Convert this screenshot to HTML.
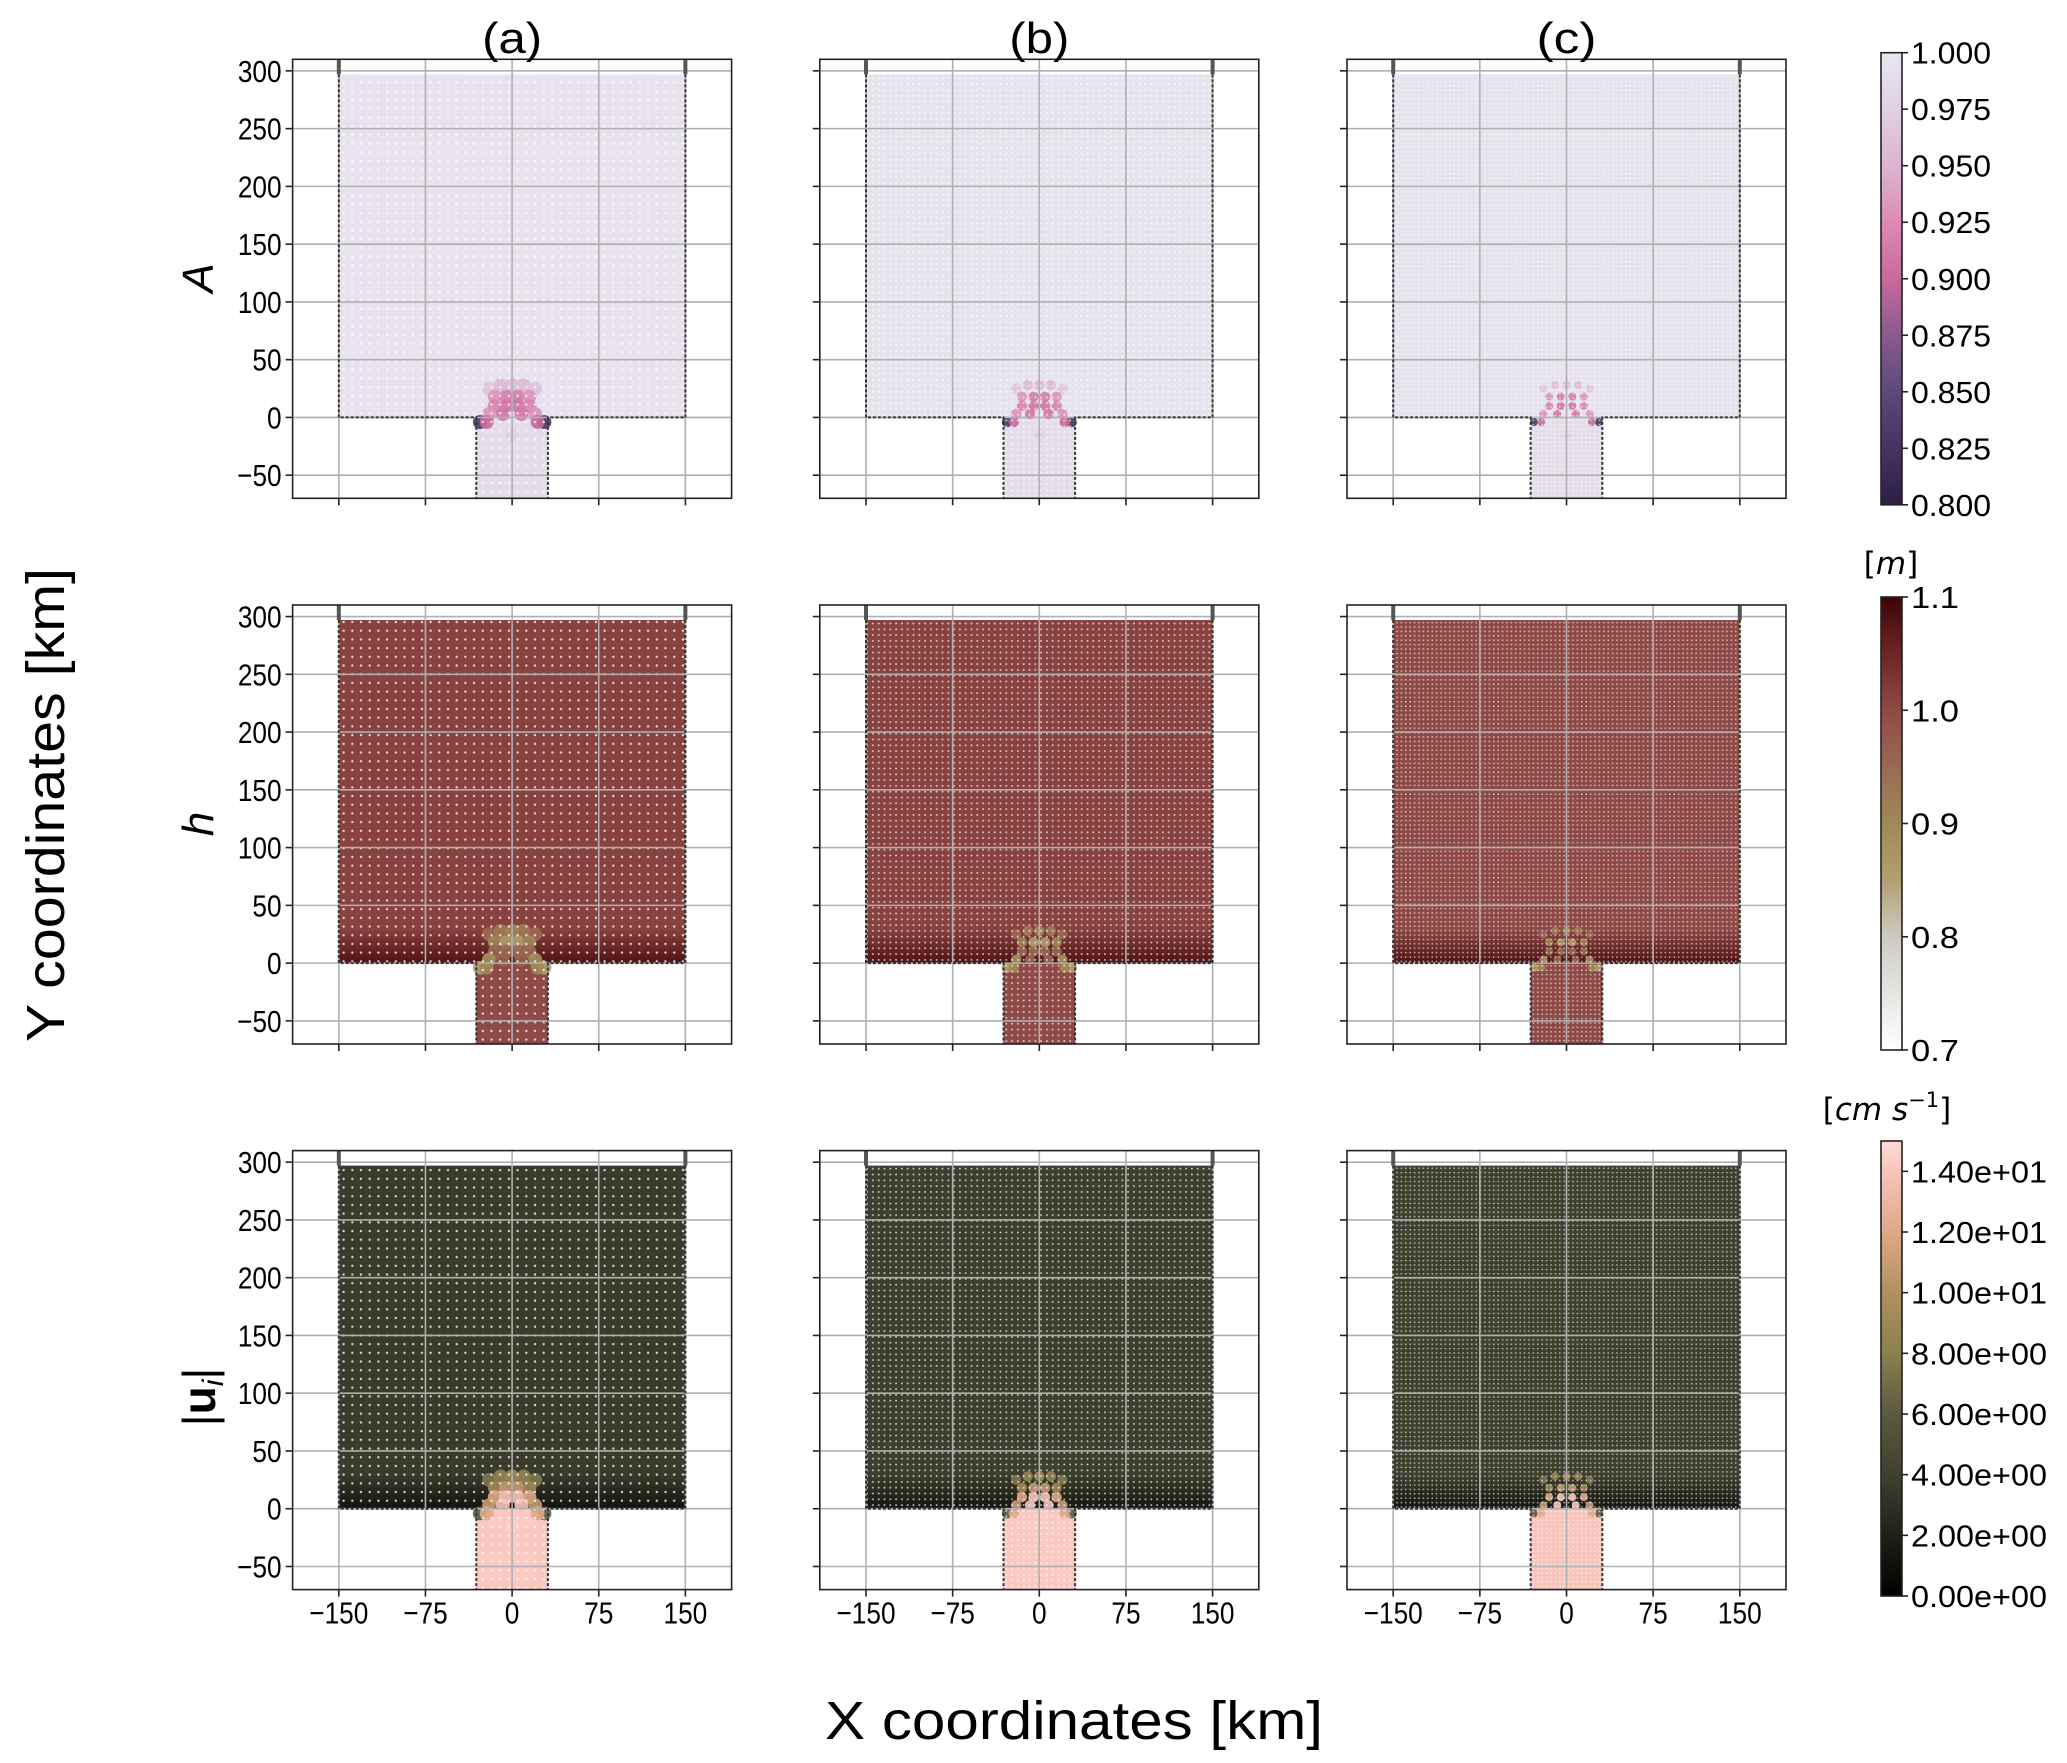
<!DOCTYPE html>
<html><head><meta charset="utf-8"><style>
html,body{margin:0;padding:0;background:#fff;}
svg{display:block;}
</style></head><body>
<svg id="fig" xmlns="http://www.w3.org/2000/svg" width="2067" height="1763" viewBox="0 0 2067 1763">
<rect x="0" y="0" width="2067" height="1763" fill="#fff"/>
<defs>
<pattern id="dotsA" width="8.7" height="8.7" patternUnits="userSpaceOnUse"><circle cx="4.3" cy="4.3" r="1.2" fill="#fff" opacity="0.8"/></pattern>
<pattern id="dotsB" width="5.8" height="5.8" patternUnits="userSpaceOnUse"><circle cx="2.9" cy="2.9" r="1" fill="#fff" opacity="0.7"/></pattern>
<pattern id="dotsC" width="4.4" height="4.4" patternUnits="userSpaceOnUse"><circle cx="2.2" cy="2.2" r="0.9" fill="#fff" opacity="0.6"/></pattern>
</defs>
<g id="layer"></g>
</svg>
<script>
// ---- data ----
const xTicks = [-150, -75, 0, 75, 150];
const yTicks = [-50, 0, 50, 100, 150, 200, 250, 300];
const colTitles = ["(a)", "(b)", "(c)"];
const rowVars = ["A", "h", "u"];
const baseA = [0.996, 0.997, 0.997];
const baseH = [1.01, 1.01, 1.0];
const baseU = [3.7, 3.9, 4.0];
const chanA = [0.99, 0.99, 0.99];
const chanH = [1.0, 1.0, 1.0];
const chanU = [14.2, 14.2, 14.0];
const bandH = [1.08, 1.08, 1.08];
const bandU = [1.2, 1.4, 1.4];
const blobX = [-20, -10, 0, 10, 20, -15, -5, 5, 15, -15, -5, 5, 15, -20, -8, 8, 20, -28, 28, -22, 22, 0];
const blobY = [25, 28, 28, 28, 25, 18, 18, 18, 18, 10, 10, 10, 10, 3, 3, 3, 3, -4, -4, -4, -4, -15];
const blobA = [0.965, 0.955, 0.955, 0.955, 0.965, 0.93, 0.915, 0.915, 0.93, 0.92, 0.91, 0.91, 0.92, 0.93, 0.91, 0.91, 0.93, 0.83, 0.83, 0.9, 0.9, 0.975];
const blobH = [0.95, 0.92, 0.9, 0.92, 0.95, 0.9, 0.85, 0.85, 0.9, 0.95, 0.95, 0.95, 0.95, 0.88, 0.96, 0.96, 0.88, 0.85, 0.85, 0.9, 0.9, 1.0];
const blobU = [7.5, 8.5, 9, 8.5, 7.5, 9, 11, 11, 9, 12, 14, 14, 12, 11, 14, 14, 11, 6, 6, 12, 12, 14.5];
const blobR = [6, 4.5, 3.5];
const cbTicksA = [0.8, 0.825, 0.85, 0.875, 0.9, 0.925, 0.95, 0.975, 1.0];
const cbTicksH = [0.7, 0.8, 0.9, 1.0, 1.1];
const cbTicksU = [0, 2, 4, 6, 8, 10, 12, 14];
const cbRange = [[0.8, 1.0], [0.7, 1.1], [0, 15]];
// ---- colormaps (style) ----
const cmA = [[0.8,"#2d1e46"],[0.85,"#5c4a7a"],[0.875,"#8a5a8e"],[0.9,"#c86a9c"],[0.925,"#dc8ab4"],[0.95,"#dcb4d0"],[0.975,"#e0d0e2"],[1.0,"#e8e6f0"]];
const cmH = [[0.7,"#ffffff"],[0.8,"#cdcac2"],[0.85,"#b0a070"],[0.9,"#a08858"],[0.95,"#9a6a55"],[1.0,"#8e4a46"],[1.05,"#6e2426"],[1.1,"#3c0606"]];
const cmU = [[0,"#000000"],[2,"#202018"],[4,"#40402f"],[6,"#5c5a40"],[8,"#8a8050"],[10,"#b09060"],[12,"#e0a888"],[14,"#f8c4bc"],[15,"#fcdcd8"]];
const cmaps = [cmA, cmH, cmU];
function hex2rgb(h){return [1,3,5].map(i=>parseInt(h.substr(i,2),16));}
function cm(map, v){
  if (v <= map[0][0]) return map[0][1];
  for (let i=1;i<map.length;i++){
    if (v <= map[i][0]){
      const t=(v-map[i-1][0])/(map[i][0]-map[i-1][0]);
      const a=hex2rgb(map[i-1][1]), b=hex2rgb(map[i][1]);
      return "rgb("+a.map((c,k)=>Math.round(c+(b[k]-c)*t)).join(",")+")";
    }
  }
  return map[map.length-1][1];
}
// ---- layout ----
const NS="http://www.w3.org/2000/svg";
const layer=document.getElementById("layer");
const colX=[292.6, 819.8, 1347];
const rowY=[59.3, 605, 1150.6];
const W=439, H=439;
const xlim=[-190,190], ylim=[-70,310];
function el(tag, attrs, parent){const e=document.createElementNS(NS,tag);for(const k in attrs)e.setAttribute(k,attrs[k]);(parent||layer).appendChild(e);return e;}
function txt(s, attrs, parent){const e=el("text",attrs,parent);e.textContent=s;return e;}
const F="'Liberation Sans', 'DejaVu Sans', sans-serif";
const FD="'DejaVu Sans', 'Liberation Sans', sans-serif";
const patterns=["url(#dotsA)","url(#dotsB)","url(#dotsC)"];
const bases=[baseA, baseH, baseU], chans=[chanA, chanH, chanU], blobs=[blobA, blobH, blobU];
function lblW(s){let w=0;for(const ch of s)w+=(ch==="\u2212"?0.58:0.556);return w*25;}

for (let r=0;r<3;r++){
  for (let c=0;c<3;c++){
    const x0=colX[c], y0=rowY[r];
    const sx=v=>x0+(v-xlim[0])/(xlim[1]-xlim[0])*W;
    const sy=v=>y0+H-(v-ylim[0])/(ylim[1]-ylim[0])*H;
    const g=el("g",{});
    
    
    const map=cmaps[r];
    const basin=el("rect",{x:sx(-150),y:sy(297),width:sx(150)-sx(-150),height:sy(0)-sy(297),fill:cm(map,bases[r][c])},g);
    
    
    if (r>0){
      const bandV = r===1? bandH[c] : bandU[c];
      const gid="band"+r+c;
      const lg=el("linearGradient",{id:gid,x1:0,y1:1,x2:0,y2:0},g);
      el("stop",{offset:0,"stop-color":cm(map,bandV)},lg);
      el("stop",{offset:1,"stop-color":cm(map,bases[r][c])},lg);
      const band=el("rect",{x:sx(-150),y:sy(30),width:sx(150)-sx(-150),height:sy(0)-sy(30),fill:"url(#"+gid+")"},g);
      
      
    }
    const chan=el("rect",{x:sx(-31),y:sy(0),width:sx(31)-sx(-31),height:sy(-70)-sy(0),fill:cm(map,chans[r][c])},g);
    
    
    for (let i=0;i<blobX.length;i++){
      const p=el("circle",{cx:sx(blobX[i]),cy:sy(blobY[i]),r:blobR[c]*1.155,fill:cm(map,blobs[r][i]),opacity:0.9},g);
      
      
    }
    el("rect",{x:sx(-150),y:sy(297),width:sx(150)-sx(-150),height:sy(0)-sy(297),fill:patterns[c]},g);
    el("rect",{x:sx(-31),y:sy(0),width:sx(31)-sx(-31),height:sy(-70)-sy(0),fill:patterns[c]},g);
    xTicks.forEach(t=>el("line",{x1:sx(t),x2:sx(t),y1:y0,y2:y0+H,stroke:"#b0b0b0","stroke-width":1.6},g));
    yTicks.forEach(t=>el("line",{x1:x0,x2:x0+W,y1:sy(t),y2:sy(t),stroke:"#b0b0b0","stroke-width":1.6},g));
    const bs={stroke:"#333","stroke-width":2,"stroke-dasharray":"3,2",fill:"none"};
    el("polyline",Object.assign({points:[sx(-150),sy(297),sx(-150),sy(0),sx(-31),sy(0),sx(-31),sy(-70)].join(" ")},bs),g);
    el("polyline",Object.assign({points:[sx(150),sy(297),sx(150),sy(0),sx(31),sy(0),sx(31),sy(-70)].join(" ")},bs),g);
    el("line",{x1:sx(-150),x2:sx(-150),y1:y0,y2:sy(297),stroke:"#555","stroke-width":4},g);
    el("line",{x1:sx(150),x2:sx(150),y1:y0,y2:sy(297),stroke:"#555","stroke-width":4},g);
    const fr=el("rect",{x:x0,y:y0,width:W,height:H,fill:"none",stroke:"#222","stroke-width":1.6},g);
    
    
    xTicks.forEach(t=>{
      el("line",{x1:sx(t),x2:sx(t),y1:y0+H,y2:y0+H+7,stroke:"#222","stroke-width":1.6},g);
      if (r===2){
        const s=(t<0?"\u2212":"")+Math.abs(t);
        const l=txt(s,{x:sx(t),y:y0+H+34,"font-family":F,"font-size":31,"text-anchor":"middle",fill:"#000",textLength:lblW(s)*1.05,lengthAdjust:"spacingAndGlyphs"},g);
        
        
      }
    });
    yTicks.forEach(t=>{
      el("line",{x1:x0-7,x2:x0,y1:sy(t),y2:sy(t),stroke:"#222","stroke-width":1.6},g);
      if (c===0){
        const s=(t<0?"\u2212":"")+Math.abs(t);
        const l=txt(s,{x:x0-11,y:sy(t)+11,"font-family":F,"font-size":31,"text-anchor":"end",fill:"#000",textLength:lblW(s)*1.05,lengthAdjust:"spacingAndGlyphs"},g);
        
        
      }
    });
    if (r===0){
      const tl=txt(colTitles[c],{x:x0+W/2,y:53,"font-family":F,"font-size":44,"text-anchor":"middle",fill:"#000",textLength:60,lengthAdjust:"spacingAndGlyphs"},g);
      
      
    }
  }
}
const rl1=txt("A",{x:0,y:0,"font-family":F,"font-size":44,"font-style":"italic","text-anchor":"middle",transform:"translate(213,278) rotate(-90)"});


const rl2=txt("h",{x:0,y:0,"font-family":F,"font-size":44,"font-style":"italic","text-anchor":"middle",transform:"translate(213,824) rotate(-90)"});


const rl3=el("text",{x:0,y:0,"font-family":F,"font-size":46,"text-anchor":"middle",transform:"translate(215,1397) rotate(-90)"});


rl3.innerHTML='|<tspan font-weight="bold">u</tspan><tspan font-style="italic" font-size="30" dy="8">i</tspan><tspan dy="-8">|</tspan>';
const yl=txt("Y coordinates [km]",{x:0,y:0,"font-family":F,"font-size":54,"text-anchor":"middle",textLength:474,lengthAdjust:"spacingAndGlyphs",transform:"translate(64,805) rotate(-90)"});


const xl=txt("X coordinates [km]",{x:1074,y:1739,"font-family":F,"font-size":54,"text-anchor":"middle",textLength:498,lengthAdjust:"spacingAndGlyphs"});


const cbY=[[52.7,504.8],[597,1050],[1141,1596]];
const cbTicks=[cbTicksA, cbTicksH, cbTicksU];
const cbFmt=[v=>v.toFixed(3), v=>v.toFixed(1), v=>{const e=v===0?0:Math.floor(Math.log10(v));const m=v/Math.pow(10,e);return m.toFixed(2)+"e+"+String(e).padStart(2,"0");}];
for (let r=0;r<3;r++){
  const [t,b]=cbY[r], x=1881, w=21;
  const gid="cbg"+r;
  const lg=el("linearGradient",{id:gid,x1:0,y1:1,x2:0,y2:0});
  const [lo,hi]=cbRange[r];
  cmaps[r].forEach(s=>el("stop",{offset:(s[0]-lo)/(hi-lo),"stop-color":s[1]},lg));
  const cb=el("rect",{x:x,y:t,width:w,height:b-t,fill:"url(#"+gid+")",stroke:"#222","stroke-width":1.6});
  
  
  cbTicks[r].forEach(v=>{
    const yy=b-(v-lo)/(hi-lo)*(b-t);
    el("line",{x1:x+w,x2:x+w+6,y1:yy,y2:yy,stroke:"#222","stroke-width":1.6});
    const s=cbFmt[r](v);
    const l=txt(s,{x:x+w+9,y:yy+11,"font-family":F,"font-size":31,fill:"#000",textLength:(r===2?136:s.length*16),lengthAdjust:"spacingAndGlyphs"});
    
    
  });
}
const u1=el("text",{x:1891,y:574,"font-family":FD,"font-size":31,"text-anchor":"middle"});


u1.innerHTML='[<tspan font-style="italic">m</tspan>]';
const u2=el("text",{x:1887,y:1120,"font-family":FD,"font-size":31,"text-anchor":"middle"});


u2.innerHTML='[<tspan font-style="italic">cm s</tspan><tspan font-size="21" dy="-13">\u22121</tspan><tspan dy="13">]</tspan>';
</script>
</body></html>
